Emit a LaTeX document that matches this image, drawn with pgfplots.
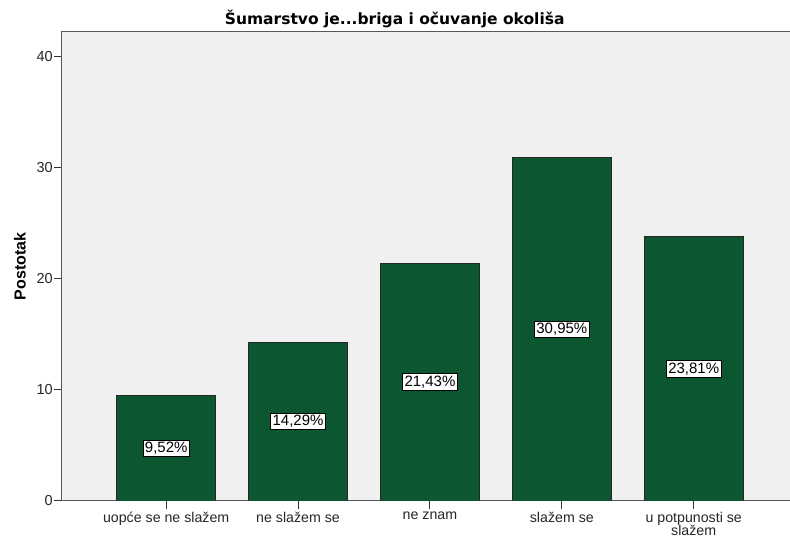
\documentclass[border=0pt]{standalone}
\usepackage{pgfplots}
\pgfplotsset{compat=1.18}
\usepackage{pgfplotstable}
\usepackage{fontspec}
\setmainfont{Liberation Sans}
\newfontfamily\titlefont{DejaVu Sans}

\definecolor{barfill}{RGB}{12,86,48}
\definecolor{plotbg}{RGB}{240,240,240}

% x  value  half (label position)
\pgfplotstableread{
x val half
0 9.52 4.76
1 14.29 7.145
2 21.43 10.715
3 30.95 15.475
4 23.81 11.905
}\datatable

\begin{document}
\begin{tikzpicture}
\useasboundingbox (-62pt,-39pt) rectangle (728pt,501pt);
\begin{axis}[
    at={(0pt,0pt)}, anchor=south west,
    scale only axis, width=728pt, height=469pt,
    xmin=-0.79, xmax=4.73, ymin=0, ymax=42.25,
    axis background/.style={fill=plotbg},
    axis line style={draw=black!65, line width=1pt},
    tick pos=left, tick align=outside,
    major tick length=8pt,
    tick style={draw=black!80, line width=1pt},
    xtick={0,...,4},
    xticklabels={uopće se ne slažem, ne slažem se, ne znam, slažem se, {u potpunosti se\\[-1.5pt]slažem}},
    xticklabel style={align=center, font=\fontsize{14.2}{13}\selectfont, text=black!85,
        inner sep=1pt, yshift=-2pt},
    ytick={0,10,20,30,40},
    yticklabel style={font=\fontsize{14.5}{13}\selectfont, text=black!85, inner sep=1pt},
    /pgf/number format/assume math mode=true,
    ylabel={Postotak},
    ylabel style={at={(axis description cs:-0.0577,0.5)}, anchor=center,
        font=\fontsize{16}{16}\selectfont\bfseries},
    title={Šumarstvo je...briga i očuvanje okoliša},
    title style={at={(axis description cs:0.457,1)}, anchor=base, yshift=1pt,
        font=\titlefont\fontsize{15.5}{15}\selectfont\bfseries, inner sep=0pt},
]
\addplot[ybar, bar width=0.75, fill=barfill, draw=black!85, line width=0.8pt]
    table[x=x, y=val] {\datatable};
\addplot[draw=none, mark=none, point meta=explicit,
    nodes near coords={\pgfmathprintnumber[fixed, fixed zerofill, precision=2, use comma]{\pgfplotspointmeta}\%},
    every node near coord/.style={anchor=center, fill=white, draw=black, line width=0.8pt,
        inner sep=2pt, font=\fontsize{15}{13}\selectfont}]
    table[x=x, y=half, meta=val] {\datatable};
\end{axis}
\end{tikzpicture}
\end{document}
